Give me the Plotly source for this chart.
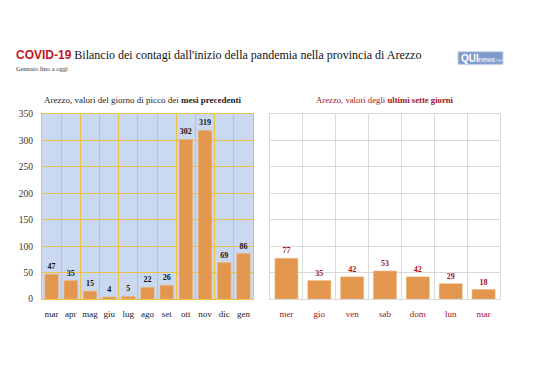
import plotly.graph_objects as go

months = ["mar", "apr", "mag", "giu", "lug", "ago", "set", "ott", "nov", "dic", "gen"]
month_vals = [47, 35, 15, 4, 5, 22, 26, 302, 319, 69, 86]
days = ["mer", "gio", "ven", "sab", "dom", "lun", "mar"]
day_vals = [77, 35, 42, 53, 42, 29, 18]
y_ticks = [0, 50, 100, 150, 200, 250, 300, 350]

W, H = 538, 380
SERIF = "Liberation Serif"
BAR = "#e3964d"
DARKRED = "#a3121c"

fig = go.Figure()
fig.add_trace(go.Bar(
    x=months, y=month_vals, text=month_vals, textposition="outside",
    textfont=dict(family=SERIF, size=8, color="#111111", weight="bold"),
    marker=dict(color=BAR, line=dict(color="#f0b57a", width=0.6)),
    cliponaxis=False, xaxis="x", yaxis="y", showlegend=False, hoverinfo="skip"))
fig.add_trace(go.Bar(
    x=days, y=day_vals, text=day_vals, textposition="outside",
    textfont=dict(family=SERIF, size=8, color=DARKRED, weight="bold"),
    marker=dict(color=BAR, line=dict(color="#f0b57a", width=0.6)),
    cliponaxis=False, xaxis="x2", yaxis="y2", showlegend=False, hoverinfo="skip"))

ybot, ytop = 1 - 302 / H, 1 - 112 / H
fig.update_layout(
    width=W, height=H, margin=dict(l=0, r=0, t=0, b=0),
    paper_bgcolor="white", plot_bgcolor="white",
    bargap=0.3,
    font=dict(family=SERIF, size=9, color="#222222"),
    xaxis=dict(domain=[42 / W, 253 / W], type="category", tickson="boundaries",
               showgrid=True, gridcolor="#e8c24a", gridwidth=1, tickangle=0,
               showline=True, linecolor="#e8c24a", mirror=True, ticks="",
               ticklabelstandoff=6,
               tickfont=dict(family=SERIF, size=9, color="#222222")),
    yaxis=dict(domain=[ybot, ytop], range=[0, 350], tickvals=y_ticks,
               showgrid=True, gridcolor="#e8c24a", gridwidth=1, zeroline=False,
               showline=True, linecolor="#e8c24a", mirror=True, ticks="",
               ticklabelstandoff=6,
               tickfont=dict(family=SERIF, size=9.5, color="#333333")),
    xaxis2=dict(domain=[270 / W, 500 / W], type="category", tickson="boundaries",
                anchor="y2", showgrid=True, gridcolor="#d9d9d9", gridwidth=1, tickangle=0,
                showline=True, linecolor="#d9d9d9", mirror=True, ticks="",
                ticklabelstandoff=6,
                tickfont=dict(family=SERIF, size=9, color=DARKRED)),
    yaxis2=dict(domain=[ybot, ytop], range=[0, 350], tickvals=y_ticks, anchor="x2",
                showticklabels=False, showgrid=True, gridcolor="#d9d9d9",
                zeroline=False, showline=True, linecolor="#d9d9d9", mirror=True),
)
# left plot background light blue
fig.add_shape(type="rect", xref="x domain", yref="y domain", x0=0, x1=1, y0=0, y1=1,
              fillcolor="#cbd9f0", line=dict(width=0), layer="below")

fig.add_annotation(x=14 / W, y=1 - 51 / H, xref="paper", yref="paper", xanchor="left",
                   yanchor="middle", showarrow=False,
                   text="<span style='font-family:Liberation Sans;color:#c0161e'><b>COVID-19</b></span> "
                        "Bilancio dei contagi dall'inizio della pandemia nella provincia di Arezzo",
                   font=dict(family=SERIF, size=12, color="#111111"))
fig.add_annotation(x=14 / W, y=1 - 65 / H, xref="paper", yref="paper", xanchor="left",
                   yanchor="middle", showarrow=False, text="Gennaio fino a oggi",
                   font=dict(family=SERIF, size=6.5, color="#333333"))
fig.add_annotation(x=143 / W, y=1 - 98 / H, xref="paper", yref="paper", xanchor="center",
                   yanchor="middle", showarrow=False,
                   text="Arezzo, valori del giorno di picco dei <b>mesi precedenti</b>",
                   font=dict(family=SERIF, size=9, color="#222222"))
fig.add_annotation(x=385 / W, y=1 - 98 / H, xref="paper", yref="paper", xanchor="center",
                   yanchor="middle", showarrow=False,
                   text="Arezzo, valori degli <b>ultimi sette giorni</b>",
                   font=dict(family=SERIF, size=8.7, color=DARKRED))
# logo
fig.add_shape(type="rect", xref="paper", yref="paper", x0=458 / W, x1=503 / W,
              y0=1 - 61 / H, y1=1 - 48 / H, fillcolor="#7f9bcc",
              line=dict(color="#c5d3ea", width=1))
fig.add_annotation(x=459 / W, y=1 - 54.5 / H, xref="paper", yref="paper", xanchor="left",
                   yanchor="middle", showarrow=False,
                   text="<b>QUI</b><span style='font-size:7px'>news</span><span style='font-size:6px;color:#cfdcf2'>net</span>",
                   font=dict(family="Liberation Sans", size=10, color="white"))

fig.write_html("out.html", config={"displayModeBar": False},
               post_script="document.body.style.margin='0';")
